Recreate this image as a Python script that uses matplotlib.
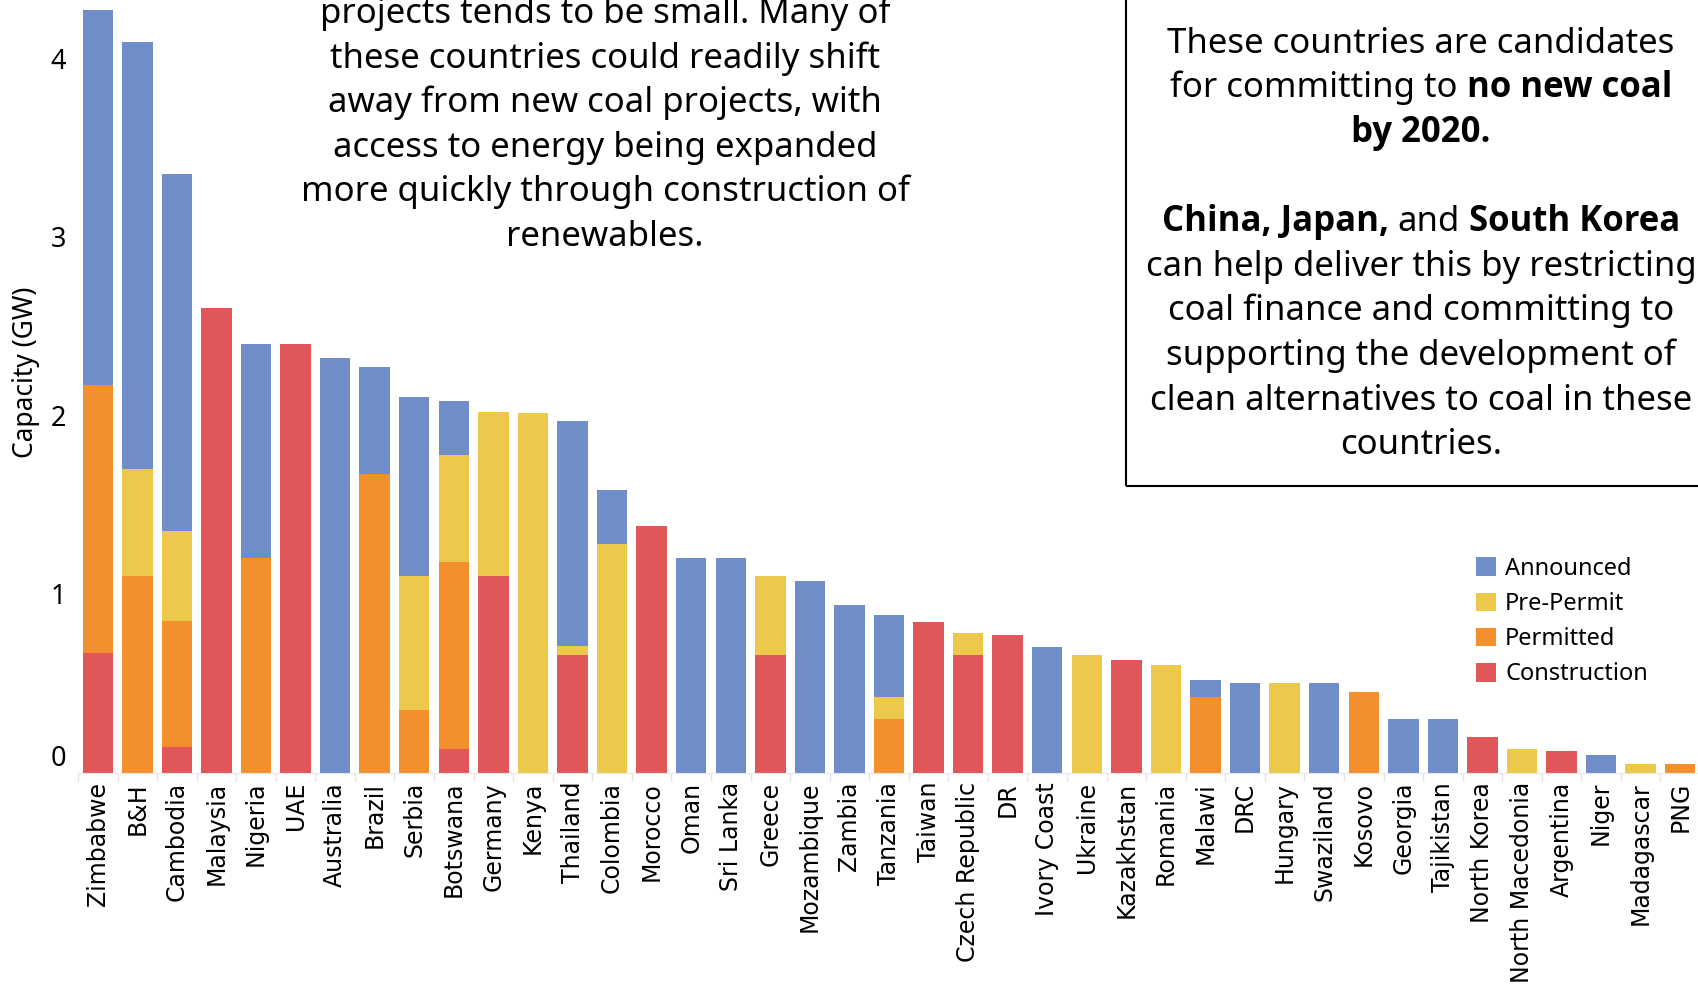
import matplotlib
matplotlib.use("Agg")
import matplotlib.pyplot as plt
import matplotlib.transforms as mtransforms
from matplotlib import font_manager as fm
from matplotlib.patches import Rectangle
import numpy as np

plt.rcParams['font.family'] = 'Noto Sans'

countries = ["Zimbabwe", "B&H", "Cambodia", "Malaysia", "Nigeria", "UAE", "Australia",
             "Brazil", "Serbia", "Botswana", "Germany", "Kenya", "Thailand", "Colombia",
             "Morocco", "Oman", "Sri Lanka", "Greece", "Mozambique", "Zambia", "Tanzania",
             "Taiwan", "Czech Republic", "DR", "Ivory Coast", "Ukraine", "Kazakhstan",
             "Romania", "Malawi", "DRC", "Hungary", "Swaziland", "Kosovo", "Georgia",
             "Tajikistan", "North Korea", "North Macedonia", "Argentina", "Niger",
             "Madagascar", "PNG"]

# capacity by project stage, GW
construction = [0.67, 0, 0.14, 2.60, 0, 2.40, 0, 0, 0, 0.13, 1.10, 0, 0.66, 0,
                1.38, 0, 0, 0.66, 0, 0, 0, 0.84, 0.66, 0.77, 0, 0, 0.63,
                0, 0, 0, 0, 0, 0, 0, 0, 0.20, 0, 0.12, 0, 0, 0]
permitted = [1.50, 1.10, 0.71, 0, 1.20, 0, 0, 1.67, 0.35, 1.05, 0, 0, 0, 0,
             0, 0, 0, 0, 0, 0, 0.30, 0, 0, 0, 0, 0, 0,
             0, 0.42, 0, 0, 0, 0.45, 0, 0, 0, 0, 0, 0, 0, 0.05]
pre_permit = [0, 0.60, 0.50, 0, 0, 0, 0, 0, 0.75, 0.60, 0.92, 2.01, 0.05, 1.28,
              0, 0, 0, 0.44, 0, 0, 0.12, 0, 0.12, 0, 0, 0.66, 0,
              0.60, 0, 0, 0.50, 0, 0, 0, 0, 0, 0.13, 0, 0, 0.05, 0]
announced = [2.10, 2.39, 2.00, 0, 1.20, 0, 2.32, 0.60, 1.00, 0.30, 0, 0, 1.26, 0.30,
             0, 1.20, 1.20, 0, 1.07, 0.94, 0.46, 0, 0, 0, 0.70, 0, 0,
             0, 0.10, 0.50, 0, 0.50, 0, 0.30, 0.30, 0, 0, 0, 0.10, 0, 0]

stages = [("Construction", construction, "#E15759"),
          ("Permitted", permitted, "#F38F2C"),
          ("Pre-Permit", pre_permit, "#ECC94A"),
          ("Announced", announced, "#6F8DC8")]


def has_bold(fam):
    for f in fm.fontManager.ttflist:
        if f.name != fam:
            continue
        w = f.weight
        if isinstance(w, str):
            w = fm.weight_dict.get(w, 400)
        if w >= 600:
            return True
    return False


bold_family = next((f for f in ['Noto Sans', 'Open Sans', 'Roboto', 'Lato', 'DejaVu Sans']
                    if has_bold(f)), 'DejaVu Sans')

W, H = 1699, 998
fig = plt.figure(figsize=(W / 100, H / 100), dpi=100)
ax = fig.add_axes([78 / W, 225.5 / H, 1622 / W, 772.5 / H])

x = np.arange(len(countries))
bottom = np.zeros(len(countries))
bars = {}
for name, vals, col in stages:
    vals = np.array(vals)
    bars[name] = ax.bar(x, vals, 0.77, bottom=bottom, color=col, label=name)
    bottom += vals

ax.set_xlim(-0.5, 40.45)
ax.set_ylim(0, 4.325)
ax.set_yticks([0, 1, 2, 3, 4])
ax.tick_params(axis='y', length=0, pad=8.5, labelsize=19.5)
ax.set_xticks(x)
ax.set_xticklabels(countries, rotation=90, fontsize=17, family='DejaVu Sans')
ax.set_xticks(np.arange(-0.5, len(countries), 1), minor=True)
ax.tick_params(axis='x', which='major', length=0, pad=6.8)
ax.tick_params(axis='x', which='minor', length=6, color='#E3E3E3', width=1)
for s in ['top', 'right', 'left']:
    ax.spines[s].set_visible(False)
ax.spines['bottom'].set_color('#E8E8E8')

# the zero label sits a little above the baseline
lab0 = ax.yaxis.get_major_ticks()[0].label1
lab0.set_transform(lab0.get_transform() +
                   mtransforms.ScaledTranslation(0, 17 / 100, fig.dpi_scale_trans))

ax.set_ylabel("Capacity (GW)", fontsize=19, va='center')
ax.yaxis.set_label_coords((26.5 - 78) / 1622, (772.5 - 372) / 772.5)

order = ["Announced", "Pre-Permit", "Permitted", "Construction"]
fig.legend([bars[n] for n in order], order, loc='upper left',
           bbox_to_anchor=(1476 / W, 1 - 557 / H), frameon=False, fontsize=17,
           borderpad=0, borderaxespad=0, handlelength=0.85, handleheight=0.85,
           handletextpad=0.38, labelspacing=0.47)

renderer = fig.canvas.get_renderer()


def centered_line(xc, yc, parts, size=25):
    # parts: (string, weight) pieces joined by single spaces, centred on xc
    texts, widths = [], []
    for s, w in parts:
        fam = bold_family if w == 'bold' else 'Noto Sans'
        t = fig.text(0, 0, s, fontsize=size, fontweight=w, family=fam,
                     ha='left', va='baseline', color='black')
        texts.append(t)
        widths.append(t.get_window_extent(renderer).width)
    probe = fig.text(0, 0, "n n", fontsize=size)
    probe2 = fig.text(0, 0, "nn", fontsize=size)
    space = probe.get_window_extent(renderer).width - probe2.get_window_extent(renderer).width
    probe.remove()
    probe2.remove()
    total = sum(widths) + space * (len(parts) - 1)
    xp = xc - total / 2
    base = yc + 0.26 * size * 100 / 72
    for t, w in zip(texts, widths):
        t.set_position((xp / W, 1 - base / H))
        xp += w + space


mid_lines = ["projects tends to be small. Many of",
             "these countries could readily shift",
             "away from new coal projects, with",
             "access to energy being expanded",
             "more quickly through construction of",
             "renewables."]
for i, line in enumerate(mid_lines):
    centered_line(605, 14 + 44.5 * i, [(line, 'normal')])

box_lines = [[("These countries are candidates", 'normal')],
             [("for committing to", 'normal'), ("no new coal", 'bold')],
             [("by 2020.", 'bold')],
             [],
             [("China, Japan,", 'bold'), ("and", 'normal'), ("South Korea", 'bold')],
             [("can help deliver this by restricting", 'normal')],
             [("coal finance and committing to", 'normal')],
             [("supporting the development of", 'normal')],
             [("clean alternatives to coal in these", 'normal')],
             [("countries.", 'normal')]]
for i, parts in enumerate(box_lines):
    if parts:
        centered_line(1421, 43.5 + 44.65 * i, parts)

fig.add_artist(Rectangle((1126 / W, 1 - 486 / H), 0.5, 0.6, fill=False,
                         edgecolor='black', linewidth=1.5, transform=fig.transFigure))

fig.savefig("out.png", dpi=100)
